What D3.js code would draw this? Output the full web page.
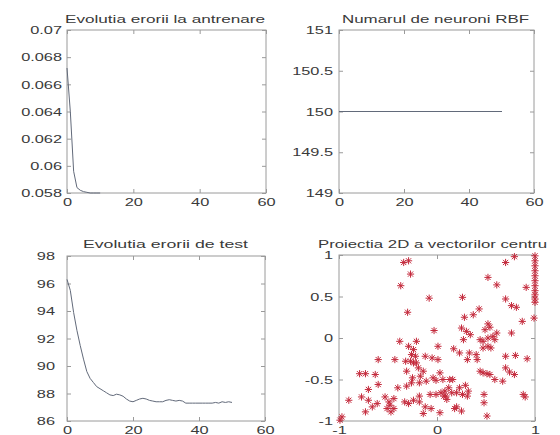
<!DOCTYPE html>
<html><head><meta charset="utf-8">
<script src="https://cdn.jsdelivr.net/npm/d3@7"></script>
<style>body{margin:0;background:#fff} svg{display:block}</style>
</head><body><svg id="c" width="560" height="435"></svg>
<script>
// ---- data ----
const trainError = [0.0672,0.0640,0.0596,0.0584,0.0582,0.0581,0.05805,0.0580,0.0580,0.0580,0.0580];
const neuronCount = [150,150,150,150,150,150,150,150,150,150,150,150,150,150,150,150,150,150,150,150,150,150,150,150,150,150,150,150,150,150,150,150,150,150,150,150,150,150,150,150,150,150,150,150,150,150,150,150,150,150,150];
const testError = [96.3,95.5,93.9,92.6,91.5,90.5,89.6,89.1,88.8,88.5,88.35,88.2,88.05,87.9,87.85,87.95,87.9,87.8,87.6,87.45,87.4,87.5,87.6,87.65,87.6,87.5,87.45,87.4,87.4,87.4,87.5,87.55,87.5,87.45,87.5,87.45,87.3,87.3,87.3,87.3,87.3,87.3,87.3,87.3,87.3,87.35,87.3,87.4,87.35,87.4,87.35];
const centerX = [-0.34,-0.29,-0.27,-0.37,-0.08,-0.30,-0.03,0.26,0.70,0.79,0.52,0.61,0.70,0.76,0.81,0.91,0.87,0.99,
 1,1,1,1,1,1,1,1,1,1,1,
 0.43,0.37,0.28,0.25,0.30,0.34,0.52,0.54,0.49,0.44,0.47,0.52,0.57,0.61,0.76,0.59,0.52,0.47,0.40,0.33,0.23,0.17,0.27,
 0.70,0.80,0.92,0.70,0.74,0.79,0.44,0.47,0.51,0.54,0.59,0.67,0.48,0.48,0.51,0.88,0.90,0.29,0.23,0.20,0.15,0.20,0.12,
 0.06,-0.01,0.04,0.07,-0.01,-0.07,0.03,-0.04,0.01,-0.05,0.01,-0.14,-0.17,-0.11,-0.18,-0.25,-0.31,-0.38,-0.29,-0.24,
 -0.21,-0.26,-0.22,-0.21,-0.27,-0.32,-0.19,-0.31,-0.12,-0.18,-0.24,-0.18,-0.33,-0.29,-0.12,-0.06,-0.14,-0.43,-0.60,
 -0.79,-0.73,-0.63,-0.60,-0.70,-0.77,-0.70,-0.90,-0.73,-0.53,-0.49,-0.51,-0.48,-0.47,-0.44,-0.61,-0.44,-0.99,-0.97,
 0.25,0.18,0.10,0.31,0.32,
 -0.40,-0.26,0.03,0.09,0.13,0.16,0.26,0.31,0.41,0.55,-0.24,-0.66,0.08];
const centerY = [0.91,0.93,0.77,0.63,0.48,0.31,0.09,0.49,0.91,0.98,0.73,0.64,0.47,0.39,0.37,0.61,0.20,0.24,
 0.99,0.93,0.87,0.81,0.75,0.69,0.63,0.57,0.52,0.47,0.43,
 0.35,0.28,0.25,0.12,0.08,0.04,0.17,0.13,0.10,-0.02,-0.04,0.00,0.02,0.06,0.06,-0.02,-0.10,-0.12,-0.20,-0.18,-0.18,-0.13,-0.02,
 -0.22,-0.21,-0.25,-0.36,-0.41,-0.44,-0.40,-0.42,-0.43,-0.44,-0.50,-0.52,-0.68,-0.78,-0.94,-0.68,-0.71,-0.57,-0.60,-0.66,-0.66,-0.83,-0.60,
 -0.50,-0.51,-0.66,-0.70,-0.68,-0.68,-0.90,-0.48,-0.26,-0.24,-0.10,-0.40,-0.46,-0.52,-0.54,-0.48,-0.58,-0.04,-0.10,-0.14,
 -0.04,-0.20,-0.22,-0.30,-0.28,-0.28,-0.36,-0.40,-0.22,-0.70,-0.75,-0.77,-0.77,-0.79,-0.83,-0.85,-0.91,-0.26,-0.26,
 -0.43,-0.43,-0.44,-0.56,-0.62,-0.71,-0.75,-0.75,-0.89,-0.71,-0.77,-0.85,-0.81,-0.89,-0.85,-0.79,-0.73,-0.99,-0.95,
 -0.88,-0.85,-0.74,-0.70,-0.64,
 -0.60,-0.54,-0.42,-0.70,-0.50,-0.50,-0.68,-0.26,-0.26,-0.12,-0.30,-0.83,-0.64];

const epochTicks = [0,20,40,60];
const trainTicks = [0.058,0.06,0.062,0.064,0.066,0.068,0.07];
const neuronTicks = [149,149.5,150,150.5,151];
const testTicks = [86,88,90,92,94,96,98];
const projXTicks = [-1,0,1];
const projYTicks = [-1,-0.5,0,0.5,1];
const titles = ["Evolutia erorii la antrenare","Numarul de neuroni RBF","Evolutia erorii de test","Proiectia 2D a vectorilor centru"];

// ---- drawing ----
const svg = d3.select("#c");
const FONT = '"Liberation Sans", Arial, Helvetica, sans-serif';
const SX = 1.42;
const TXT = "#3a3a3a";
const BOX = "#9a9a9a";
const LINE = "#626a7a";

function stretch(sel){
  sel.selectAll(".tick text").each(function(){
    const t = d3.select(this);
    const x = +t.attr("x") || 0;
    t.attr("x", 0).attr("transform", `translate(${x},0) scale(${SX},1)`);
  });
}

function panel(c){
  const x = d3.scaleLinear().domain(c.xDomain).range([c.x0, c.x1]);
  const y = d3.scaleLinear().domain(c.yDomain).range([c.y1, c.y0]);
  const g = svg.append("g");
  const fmt = c.yFmt || (d => d);
  const xfmt = c.xFmt || (d => d);
  const axes = [
    [d3.axisLeft(y).tickValues(c.yTicks).tickFormat(fmt).tickPadding(c.gap), `translate(${c.x0},0)`, true],
    [d3.axisRight(y).tickValues(c.yTicks).tickFormat(""), `translate(${c.x1},0)`, false],
    [d3.axisBottom(x).tickValues(c.xTicks).tickFormat(xfmt).tickPadding(4.5), `translate(0,${c.y1})`, true],
    [d3.axisTop(x).tickValues(c.xTicks).tickFormat(""), `translate(0,${c.y0})`, false]
  ];
  axes.forEach(([ax, tr, lab]) => {
    ax.tickSizeInner(-4).tickSizeOuter(0);
    const a = g.append("g").attr("transform", tr).call(ax);
    a.select(".domain").remove();
    a.selectAll(".tick line").attr("stroke", BOX);
    a.attr("font-family", FONT).attr("font-size", 11.5);
    a.selectAll(".tick text").attr("fill", TXT);
    if (lab) stretch(a);
  });
  g.append("rect").attr("x", c.x0).attr("y", c.y0)
    .attr("width", c.x1 - c.x0).attr("height", c.y1 - c.y0)
    .attr("fill", "none").attr("stroke", BOX).attr("stroke-width", 1);
  g.append("text").attr("x", (c.tx0 + c.tx1) / 2).attr("y", c.ty)
    .attr("text-anchor", "middle").attr("font-family", FONT).attr("font-size", 11)
    .attr("fill", TXT).attr("textLength", c.tx1 - c.tx0).attr("lengthAdjust", "spacingAndGlyphs")
    .text(c.title);
  return {g, x, y};
}

// top-left
{
  const p = panel({x0:67,x1:266,y0:30,y1:193,xDomain:[0,60],yDomain:[0.058,0.07],
    xTicks:epochTicks,yTicks:trainTicks,yFmt:d=>String(+d.toFixed(3)),gap:5,
    title:titles[0],tx0:65,tx1:265,ty:22.5});
  p.g.append("path").datum(trainError)
    .attr("d", d3.line().x((d,i)=>p.x(i)).y(d=>p.y(d)))
    .attr("fill","none").attr("stroke",LINE).attr("stroke-width",1);
}
// top-right
{
  const p = panel({x0:339,x1:534,y0:30,y1:193,xDomain:[0,60],yDomain:[149,151],
    xTicks:epochTicks,yTicks:neuronTicks,gap:6,
    title:titles[1],tx0:342,tx1:529,ty:22.5});
  p.g.append("path").datum(neuronCount)
    .attr("d", d3.line().x((d,i)=>p.x(i)).y(d=>p.y(d)))
    .attr("fill","none").attr("stroke",LINE).attr("stroke-width",1)
    .attr("shape-rendering","crispEdges");
}
// bottom-left
{
  const p = panel({x0:67,x1:265,y0:256,y1:421,xDomain:[0,60],yDomain:[86,98],
    xTicks:epochTicks,yTicks:testTicks,gap:12,
    title:titles[2],tx0:83,tx1:248,ty:248});
  p.g.append("path").datum(testError)
    .attr("d", d3.line().x((d,i)=>p.x(i)).y(d=>p.y(d)))
    .attr("fill","none").attr("stroke",LINE).attr("stroke-width",1);
}
// bottom-right
{
  const p = panel({x0:339,x1:535,y0:255,y1:421,xDomain:[-1,1],yDomain:[-1,1],
    xTicks:projXTicks,yTicks:projYTicks,gap:6,
    title:titles[3],tx0:318,tx1:547,ty:248});
  const r = 3.6, d = 2.6;
  const star = `M${-r},0H${r}M0,${-r}V${r}M${-d},${-d}L${d},${d}M${-d},${d}L${d},${-d}`;
  const pts = centerX.map((v,i)=>[v, centerY[i]]);
  p.g.append("g").selectAll("path").data(pts).join("path")
    .attr("transform", q => `translate(${p.x(q[0])},${p.y(q[1])})`)
    .attr("d", star).attr("fill","none").attr("stroke","#c42a3c").attr("stroke-width",1);
}
</script>
</body></html>
